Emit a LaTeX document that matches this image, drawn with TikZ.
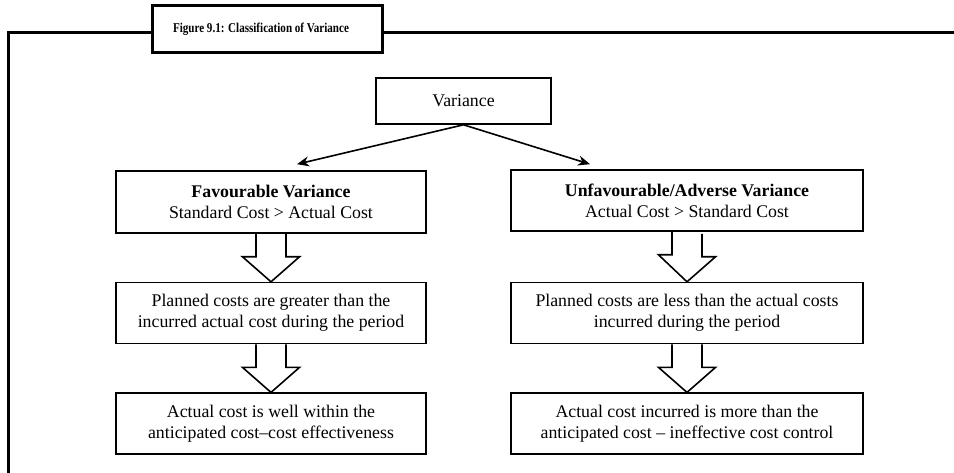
\documentclass[tikz,border=0pt]{standalone}
\usepackage{fontspec}
\usepackage{graphicx}
\setmainfont{Liberation Serif}
\usetikzlibrary{positioning,arrows.meta}

\tikzset{
  costbox/.style={draw, line width=1.6pt, align=center, minimum height=61pt,
    inner sep=2pt, font=\fontsize{17.8}{21}\selectfont},
  leftbox/.style={costbox, minimum width=310pt},
  rightbox/.style={costbox, minimum width=352pt},
  fatarrow/.style={draw, line width=1.6pt, line join=miter},
  pointer/.style={line width=1.6pt, -{Stealth[length=12pt,width=10pt]}}
}

\newcommand\blockarrow[2]{%
  \draw[fatarrow] (#1.south) ++(-15,0) -- ++(0,23) -- ++(-13.5,0) -- (#2.north)
    -- ++(28.5,-25) -- ++(-13.5,0) -- ++(0,-23);}

\begin{document}
\begin{tikzpicture}[x=1pt, y=-1pt]
  \useasboundingbox (0,0) rectangle (954,473);

  % frame and heading
  \draw[line width=3pt] (954,33) -- (8,33) -- (8,475);
  \node [draw, line width=3pt, fill=white, minimum width=230pt, minimum height=47pt,
    font=\bfseries\fontsize{13.5}{15}\selectfont] (title) at (267,29.5)
    {\raisebox{3pt}{\scalebox{0.82}[1]{Figure 9.1: Classification of Variance}}\hspace*{12pt}};

  % top of the tree
  \node [costbox, minimum width=175pt, minimum height=46pt] (var) at (463.5,101) {Variance};

  % left column
  \node [leftbox, minimum height=62pt] (fav) at (271,202)
    {\textbf{Favourable Variance}\\Standard Cost > Actual Cost};
  \node [leftbox, below=48pt of fav] (fav2)
    {Planned costs are greater than the\\incurred actual cost during the period};
  \node [leftbox, below=48pt of fav2] (fav3)
    {Actual cost is well within the\\anticipated cost--cost effectiveness};

  % right column
  \node [rightbox] (unf) at (687,200.5)
    {\textbf{Unfavourable/Adverse Variance}\\Actual Cost > Standard Cost};
  \node [rightbox, below=50pt of unf] (unf2)
    {Planned costs are less than the actual costs\\incurred during the period};
  \node [rightbox, below=48pt of unf2] (unf3)
    {Actual cost incurred is more than the\\anticipated cost -- ineffective cost control};

  \draw[pointer] (var.south) -- ([xshift=26pt, yshift=6pt]fav.north);
  \draw[pointer] (var.south) -- ([xshift=-97pt, yshift=5pt]unf.north);

  \blockarrow{fav}{fav2}
  \blockarrow{fav2}{fav3}
  \blockarrow{unf}{unf2}
  \blockarrow{unf2}{unf3}
\end{tikzpicture}
\end{document}
